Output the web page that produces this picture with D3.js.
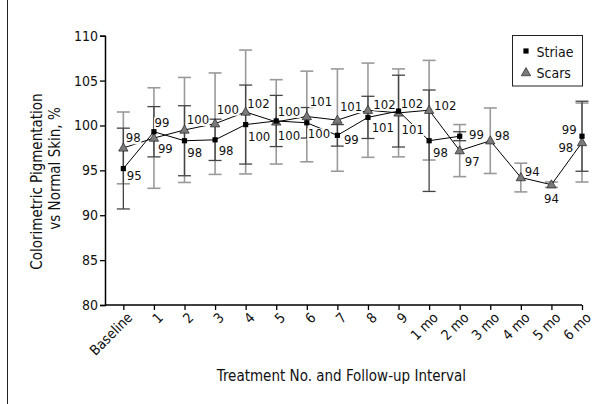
<!DOCTYPE html>
<html><head><meta charset="utf-8">
<script src="https://cdn.jsdelivr.net/npm/d3@7"></script>
<style>
body{margin:0;background:#fff;}
svg{display:block;}
text{font-family:"Liberation Sans Narrow","Arial Narrow","DejaVu Sans Condensed",sans-serif;fill:#111;}
</style></head>
<body><svg id="c" width="603" height="404"></svg>
<script>
const categories = ["Baseline","1","2","3","4","5","6","7","8","9","1 mo","2 mo","3 mo","4 mo","5 mo","6 mo"];
const striae    = [95.2, 99.3, 98.3, 98.4, 100.1, 100.5, 100.3, 98.9, 100.9, 101.6, 98.3, 98.8, null, null, null, 98.8];
const striaeErr = [4.5, 2.8, 3.9, 2.3, 4.4, 2.85, 1.7, 1.2, 2.35, 4.0, 5.65, 0.5, null, null, null, 3.9];
const scars     = [97.5, 98.6, 99.5, 100.2, 101.5, 100.4, 101.0, 100.6, 101.7, 101.4, 101.7, 97.2, 98.3, 94.2, 93.4, 98.1];
const scarsErr  = [4.0, 5.6, 5.85, 5.65, 6.9, 4.7, 5.05, 5.7, 5.25, 4.9, 5.55, 2.9, 3.65, 1.6, 0.3, 4.4];
const striaeLabels = ["95","99","98","98","100","100","100","99","101","102","98","99",null,null,null,"99"];
const scarsLabels  = ["98","99","100","100","102","100","101","101","102","101","102","97","98","94","94","98"];
const yTicks = [80,85,90,95,100,105,110];

// label layout offsets (dx, dy to baseline, anchor) — layout only
const striaeLabelPos = [[3.4,11.7,"start"],[0.7,-4.4,"start"],[2.7,16.6,"start"],[3.6,15,"start"],[2.3,16.7,"start"],[1.6,19,"start"],[1,15.6,"start"],[6.5,8.3,"start"],[3.7,15,"start"],[2.3,-3.3,"start"],[4,16,"start"],[9.3,2.3,"start"],null,null,null,[-5.3,-2.7,"end"]];
const scarsLabelPos = [[2.5,-5.6,"start"],[4,15,"start"],[2.3,-6,"start"],[1.6,-10,"start"],[1.7,-4,"start"],[1.6,-6,"start"],[3,-10.7,"start"],[2.5,-9,"start"],[5.3,-1.7,"start"],[3,21,"start"],[5,-0.7,"start"],[5,15.7,"start"],[4.5,-1,"start"],[4,-1.6,"start"],[0,18,"middle"],[-8.7,9,"end"]];

const svg = d3.select("#c");
const x = d3.scaleLinear().domain([-0.6, 15]).range([105, 582]);
const y = d3.scaleLinear().domain([80, 110]).range([305, 35.7]);

// frame line on left
svg.append("line").attr("x1",7.5).attr("x2",7.5).attr("y1",0).attr("y2",404).attr("stroke","#222").attr("stroke-width",1);

// axes
const yAxis = svg.append("g").attr("transform","translate(105,0)")
  .call(d3.axisLeft(y).tickValues(yTicks).tickSize(5).tickPadding(2));
const xAxis = svg.append("g").attr("transform","translate(0,305)")
  .call(d3.axisBottom(x).tickValues(d3.range(categories.length)).tickFormat(i=>categories[i]).tickSize(5).tickSizeOuter(0));
[yAxis,xAxis].forEach(g=>{
  g.select(".domain").attr("stroke","#000").attr("stroke-width",1.5);
  g.selectAll(".tick line").attr("stroke","#000").attr("stroke-width",1.3);
});
yAxis.selectAll(".tick text").attr("font-size",14).style("font-family",'"Liberation Sans Narrow","Arial Narrow","DejaVu Sans Condensed",sans-serif').attr("fill","#111");
xAxis.select(".domain").attr("d",`M105,0H${x(15)}`);
xAxis.selectAll(".tick text")
  .attr("font-size",14).style("font-family",'"Liberation Sans Narrow","Arial Narrow","DejaVu Sans Condensed",sans-serif').attr("fill","#111")
  .attr("text-anchor","end").attr("transform","translate(-1,3) rotate(-45)").attr("dy","0.7em").attr("y",5).attr("x",0);

// titles
svg.append("text").attr("x",341.5).attr("y",381).attr("text-anchor","middle").attr("font-size",15).text("Treatment No. and Follow-up Interval");
svg.append("text").attr("transform","translate(42,181.5) rotate(-90)").attr("text-anchor","middle").attr("font-size",15).text("Colorimetric Pigmentation");
svg.append("text").attr("transform","translate(60,168.5) rotate(-90)").attr("text-anchor","middle").attr("font-size",15).text("vs Normal Skin, %");

const idx = d3.range(categories.length);
const capW = 6.5;
function errBars(vals, errs, color, sw){
  const g = svg.append("g").attr("stroke",color).attr("stroke-width",sw).attr("fill","none");
  idx.filter(i=>vals[i]!=null).forEach(i=>{
    const cx = x(i), t = y(vals[i]+errs[i]), b = y(vals[i]-errs[i]);
    g.append("line").attr("x1",cx).attr("x2",cx).attr("y1",t).attr("y2",b);
    g.append("line").attr("x1",cx-capW).attr("x2",cx+capW).attr("y1",t).attr("y2",t);
    g.append("line").attr("x1",cx-capW).attr("x2",cx+capW).attr("y1",b).attr("y2",b);
  });
}
errBars(scars, scarsErr, "#9a9a9a", 1.6);
errBars(striae, striaeErr, "#444", 1.3);

// lines
const scarsPts = idx.map(i=>({i,v:scars[i]}));
const striaePts = idx.filter(i=>striae[i]!=null).map(i=>({i,v:striae[i]}));
const lg = d3.line().x(d=>x(d.i)).y(d=>y(d.v));
svg.append("path").attr("d",lg(scarsPts)).attr("fill","none").attr("stroke","#000").attr("stroke-width",1);
// striae: continuous through 2 mo, then lone 6 mo point
svg.append("path").attr("d",lg(striaePts.filter(d=>d.i<=11))).attr("fill","none").attr("stroke","#000").attr("stroke-width",1);

// labels with white backgrounds
function labels(vals, labs, pos){
  idx.filter(i=>vals[i]!=null && labs[i]!=null).forEach(i=>{
    const p = pos[i];
    const g = svg.append("g");
    const t = g.append("text").attr("x",x(i)+p[0]).attr("y",y(vals[i])+p[1]).attr("text-anchor",p[2]).attr("font-size",13).text(labs[i]);
    const bb = t.node().getBBox();
    g.insert("rect","text").attr("x",bb.x-0.5).attr("y",bb.y+2).attr("width",bb.width+1).attr("height",bb.height-3).attr("fill","#fff");
  });
}
labels(striae, striaeLabels, striaeLabelPos);
labels(scars, scarsLabels, scarsLabelPos);

// markers
const tri = d3.symbol().type(d3.symbolTriangle).size(38);
svg.append("g").selectAll("path").data(scarsPts).join("path")
  .attr("d",tri).attr("transform",d=>`translate(${x(d.i)},${y(d.v)+0.5})`)
  .attr("fill","#7a7a7a").attr("stroke","#222").attr("stroke-width",0.7);
svg.append("g").selectAll("rect").data(striaePts).join("rect")
  .attr("x",d=>x(d.i)-2.6).attr("y",d=>y(d.v)-2.6).attr("width",5.2).attr("height",5.2).attr("fill","#000");

// legend
const leg = svg.append("g");
leg.append("rect").attr("x",512.5).attr("y",35.5).attr("width",70).attr("height",50.5).attr("fill","#fff").attr("stroke","#222").attr("stroke-width",1);
leg.append("rect").attr("x",523.4).attr("y",48.4).attr("width",5.2).attr("height",5.2).attr("fill","#000");
leg.append("path").attr("d",tri).attr("transform","translate(526,73)").attr("fill","#7a7a7a").attr("stroke","#222").attr("stroke-width",0.7);
leg.append("text").attr("x",536.5).attr("y",56.5).attr("font-size",14).text("Striae");
leg.append("text").attr("x",536.5).attr("y",77.5).attr("font-size",14).text("Scars");
</script></body></html>
